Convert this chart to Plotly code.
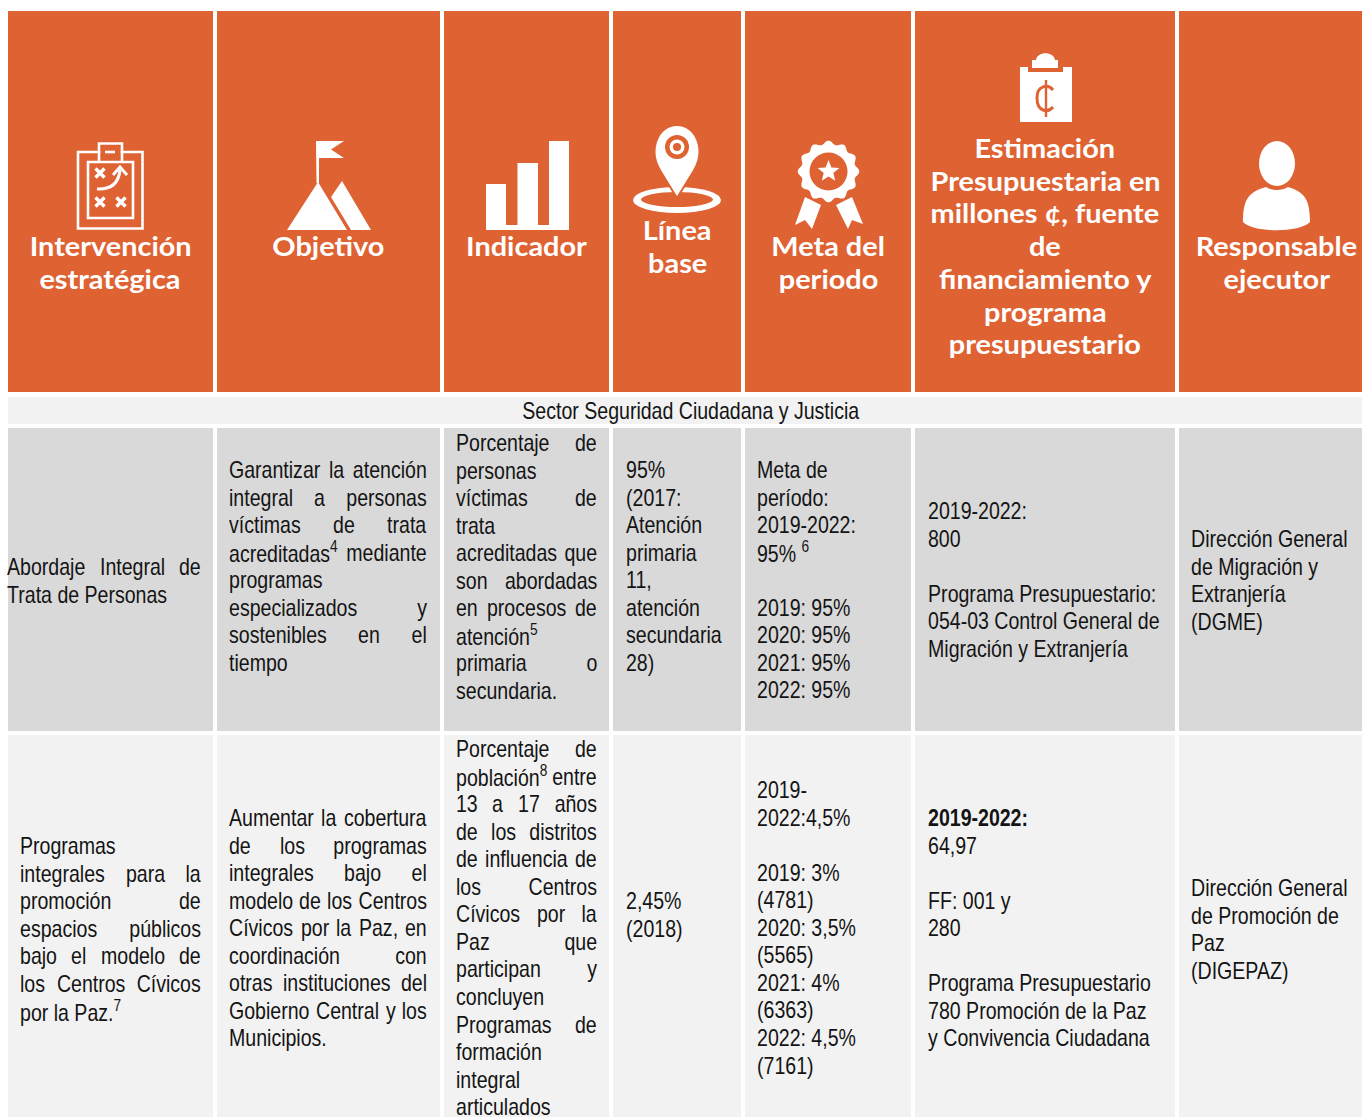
import math
import plotly.graph_objects as go

# ---------- table content ----------
headers = [
    ["Intervención", "estratégica"],
    ["Objetivo"],
    ["Indicador"],
    ["Línea", "base"],
    ["Meta del", "periodo"],
    ["Estimación", "Presupuestaria en", "millones ¢, fuente", "de", "financiamiento y", "programa", "presupuestario"],
    ["Responsable", "ejecutor"],
]
sector_title = "Sector Seguridad Ciudadana y Justicia"

row1 = [
    ["Abordaje Integral de", "Trata de Personas"],
    ["Garantizar la atención", "integral a personas", "víctimas de trata", "acreditadas<sup>4</sup> mediante",
     "programas", "especializados y", "sostenibles en el", "tiempo"],
    ["Porcentaje de", "personas", "víctimas de", "trata", "acreditadas que", "son abordadas", "en procesos de",
     "atención<sup>5</sup>", "primaria o", "secundaria."],
    ["95%", "(2017:", "Atención", "primaria", "11,", "atención", "secundaria", "28)"],
    ["Meta de", "período:", "2019-2022:", "95% <sup>6</sup>", "", "2019: 95%", "2020: 95%", "2021: 95%", "2022: 95%"],
    ["2019-2022:", "800", "", "Programa Presupuestario:", "054-03 Control General de", "Migración y Extranjería"],
    ["Dirección General", "de Migración y", "Extranjería", "(DGME)"],
]
row2 = [
    ["Programas", "integrales para la", "promoción de", "espacios públicos", "bajo el modelo de",
     "los Centros Cívicos", "por la Paz.<sup>7</sup>"],
    ["Aumentar la cobertura", "de los programas", "integrales bajo el", "modelo de los Centros",
     "Cívicos por la Paz, en", "coordinación con", "otras instituciones del", "Gobierno Central y los", "Municipios."],
    ["Porcentaje de", "población<sup>8</sup> entre", "13 a 17 años", "de los distritos", "de influencia de",
     "los Centros", "Cívicos por la", "Paz que", "participan y", "concluyen", "Programas de", "formación",
     "integral", "articulados"],
    ["2,45%", "(2018)"],
    ["2019-", "2022:4,5%", "", "2019: 3%", "(4781)", "2020: 3,5%", "(5565)", "2021: 4%", "(6363)", "2022: 4,5%", "(7161)"],
    ["<b>2019-2022:</b>", "64,97", "", "FF: 001 y", "280", "", "Programa Presupuestario", "780 Promoción de la Paz",
     "y Convivencia Ciudadana"],
    ["Dirección General", "de Promoción de", "Paz", "(DIGEPAZ)"],
]

# ---------- layout geometry (pixels) ----------
W, H = 1362, 1117
col_x0 = [8, 217, 444, 613, 745, 915, 1179]
col_x1 = [213, 440, 609, 741, 911, 1175, 1362]
head_cx = [110, 328, 526, 677, 828, 1045, 1276]
head_y0 = [245.5, 245.5, 245.5, 229.5, 245.5, 147.5, 245.5]
r1_text = [(7, 201, True), (229, 427, True), (456, 597, True), (626, 741, False), (757, 911, False), (928, 1175, False), (1191, 1362, False)]
r2_text = [(20, 201, True), (229, 427, True), (456, 597, True), (626, 741, False), (757, 911, False), (928, 1175, False), (1191, 1362, False)]
r1_y0 = [566.5, 469.5, 442.5, 469.5, 469.5, 510.5, 538.5]
r2_y0 = [845.5, 817.5, 748.5, 900.5, 789.5, 817.5, 887.5]
LINE = 27.55
BODY_SIZE = 24
BODY_SX = 0.815
HEAD_SIZE = 27
HEAD_SX = 1.07
BODY_FONT = "Liberation Sans"
HEAD_FONT = "Lato"
ORANGE = "#df6233"
INK = "#141414"

WIDTHS = dict(zip("abcdefghijklmnopqrstuvwxyz",
                  [556, 556, 500, 556, 556, 278, 556, 556, 222, 222, 500, 222, 833, 556, 556, 556, 556, 333, 500, 278,
                   556, 500, 722, 500, 500, 500]))
WIDTHS.update(dict(zip("ABCDEFGHIJKLMNOPQRSTUVWXYZ",
                       [667, 667, 722, 722, 667, 611, 778, 722, 278, 500, 667, 556, 833, 722, 778, 667, 778, 722, 667,
                        611, 722, 667, 944, 667, 667, 611])))
WIDTHS.update({"í": 278, "ó": 556, "á": 556, ".": 278, ",": 278, ":": 278, "(": 333, ")": 333, "-": 333, "%": 889})


def word_width(word):
    plain = word
    extra = 0
    if "<sup>" in word:
        plain = word.split("<sup>")[0]
        extra = 389
    return (sum(WIDTHS.get(c, 556) for c in plain) + extra) * BODY_SX * BODY_SIZE / 1000


shapes = []
annotations = []
NOFILL = "rgba(0,0,0,0)"


def rect(x0, y0, x1, y1, color):
    shapes.append(dict(type="rect", x0=x0, y0=y0, x1=x1, y1=y1, fillcolor=color, line_width=0, xref="x", yref="y"))


def path(d, fill="white", line=None, lw=0):
    shapes.append(dict(type="path", path=d, fillcolor=fill, line=dict(color=line or NOFILL, width=lw),
                       xref="x", yref="y"))


def ellipse(x0, y0, x1, y1, fill):
    shapes.append(dict(type="circle", x0=x0, y0=y0, x1=x1, y1=y1, fillcolor=fill, line_width=0, xref="x", yref="y"))


def text(x, y, s, anchor="left", size=BODY_SIZE, font=BODY_FONT, color=INK, weight=None):
    f = dict(family=font, size=size, color=color)
    if weight:
        f["weight"] = weight
    annotations.append(dict(x=x, y=y, text=s, showarrow=False, xanchor=anchor, yanchor="middle", borderpad=0,
                            borderwidth=0, font=f, xref="x", yref="y"))


def draw_cell(lines, x0, x1, justify, y0):
    last = len(lines) - 1
    for i, ln in enumerate(lines):
        if not ln:
            continue
        y = y0 + i * LINE
        words = ln.split(" ")
        if justify and len(words) > 1 and i != last:
            widths = [word_width(w) for w in words]
            gap = (x1 - x0 - sum(widths)) / (len(words) - 1)
            pos = x0
            for k, w in enumerate(words):
                if k == len(words) - 1:
                    text(x1, y, w, anchor="right")
                else:
                    text(pos, y, w)
                pos += widths[k] + gap
        else:
            text(x0, y, ln)


# ---------- backgrounds ----------
rect(8, 397, 1362, 424, "#f2f2f2")
for a, b in zip(col_x0, col_x1):
    rect(a, 11, b, 392, ORANGE)
    rect(a, 428, b, 731, "#d9d9d9")
    rect(a, 735, b, 1117, "#f2f2f2")

# ---------- header text ----------
for cx, y0, lines in zip(head_cx, head_y0, headers):
    for i, ln in enumerate(lines):
        text(cx, y0 + i * 32.7, ln, anchor="center", size=HEAD_SIZE, font=HEAD_FONT, color="white", weight=700)

text(690.5, 410.5, sector_title, anchor="center")

for (x0, x1, j), y0, lines in zip(r1_text, r1_y0, row1):
    draw_cell(lines, x0, x1, j, y0)
for (x0, x1, j), y0, lines in zip(r2_text, r2_y0, row2):
    draw_cell(lines, x0, x1, j, y0)

# ---------- icons ----------
# 1. tactics clipboard
path("M78,152 L99,152 L99,143.5 L122,143.5 L122,152 L142.5,152 L142.5,228.5 L78,228.5 Z", fill=NOFILL, line="white", lw=2.6)
path("M99,162 L88,162 L88,218 L133,218 L133,162 L122,162", fill=NOFILL, line="white", lw=2.6)
path("M99,162 L122,162 M99,151 L99,162 M122,151 L122,162", fill=NOFILL, line="white", lw=2.6)
path("M105,152 L115,152", fill=NOFILL, line="white", lw=2.6)
for cx, cy in [(100, 173), (100, 202), (121, 202)]:
    path(f"M{cx-4.5},{cy-4.5} L{cx+4.5},{cy+4.5} M{cx-4.5},{cy+4.5} L{cx+4.5},{cy-4.5}", fill=NOFILL, line="white", lw=3.5)
path("M97,189 Q118,190 120,170", fill=NOFILL, line="white", lw=3)
path("M113,175 L120,167 L127,175", fill=NOFILL, line="white", lw=3)

# 2. mountain with flag
path("M287,230 L318,182 L347,230 Z")
path("M331,197 L342,181 L371,230 L351,230 Z")
path("M316,141 L344,141 L331,149.5 L344,158 L319,158 L319,183 L316.5,183 Z")

# 3. bar icon
path("M486,230 L486,184 L506,184 L506,225 L517.5,225 L517.5,163 L538,163 L538,225 L549,225 L549,141 L569,141 L569,230 Z")

# 4. location pin
ellipse(633, 187, 721, 213, "white")
ellipse(641, 192, 713, 207, ORANGE)
path("M677,198 L661,172 C647,150 658,125 677,125 C696,125 707,150 693,172 Z", line=ORANGE, lw=2)
ellipse(665, 135, 689, 159, ORANGE)
ellipse(669.5, 139.5, 684.5, 154.5, "white")
ellipse(673, 143, 681, 151, ORANGE)

# 5. award medal
path("M805,197 L821,205 L812,229 L805,220 L795,225 Z")
path("M836,205 L852,197 L863,224 L852,220 L848,229 Z")
CX, CY = 828.5, 171.5
pts = []
for k in range(240):
    t = 2 * math.pi * k / 240
    r = 29 + 1.8 * math.cos(12 * t)
    pts.append(f"{CX + r * math.sin(t):.1f},{CY - r * math.cos(t):.1f}")
path("M" + " L".join(pts) + " Z")
ellipse(CX - 19, CY - 19, CX + 19, CY + 19, ORANGE)
star = []
for k in range(10):
    t = math.pi * k / 5
    r = 11.5 if k % 2 == 0 else 5
    star.append(f"{CX + r * math.sin(t):.1f},{CY - r * math.cos(t):.1f}")
path("M" + " L".join(star) + " Z")

# 6. budget clipboard with colon sign
path("M1020,67 L1028,67 L1028,72 L1063,72 L1063,67 L1072,67 L1072,122 L1020,122 Z")
path("M1032,68 L1032,60 L1036,60 C1037,51 1054,51 1055,60 L1058,60 L1058,68 Z")
path("M1053,90 C1048,84 1037,85 1037,98 C1037,112 1048,113 1053,107", fill=NOFILL, line=ORANGE, lw=3)
path("M1046,80 L1046,117", fill=NOFILL, line=ORANGE, lw=2.4)

# 7. person
ellipse(1259, 141, 1295, 186, "white")
path("M1243,222 C1243,200 1248,192 1266,187 C1272,191 1282,191 1288,187 C1305,192 1310,200 1310,222 C1300,233 1253,233 1243,222 Z")

fig = go.Figure()
fig.update_layout(
    width=W, height=H, autosize=False,
    margin=dict(l=0, r=0, t=0, b=0, pad=0),
    paper_bgcolor="white", plot_bgcolor="white",
    xaxis=dict(range=[0, W], visible=False, fixedrange=True),
    yaxis=dict(range=[H, 0], visible=False, fixedrange=True),
    shapes=shapes, annotations=annotations, showlegend=False,
)

# Condense the body face (Arial Narrow look) and widen the header face horizontally, about each text's anchor.
post = """
document.body.style.margin='0';
document.documentElement.style.overflow='hidden';
var gd=document.getElementById('{plot_id}');
gd.querySelectorAll('.annotation').forEach(function(g){
  var a=gd.layout.annotations[+g.getAttribute('data-index')];
  var sx=a.font.family==='%s'?%s:%s;
  var tg=g.querySelector('.annotation-text-g');
  tg.setAttribute('transform','translate('+a.x+' 0) scale('+sx+' 1) translate('+(-a.x)+' 0)');
});
""" % (BODY_FONT, BODY_SX, HEAD_SX)
fig.write_html("out.html", config={"displayModeBar": False}, post_script=post)
